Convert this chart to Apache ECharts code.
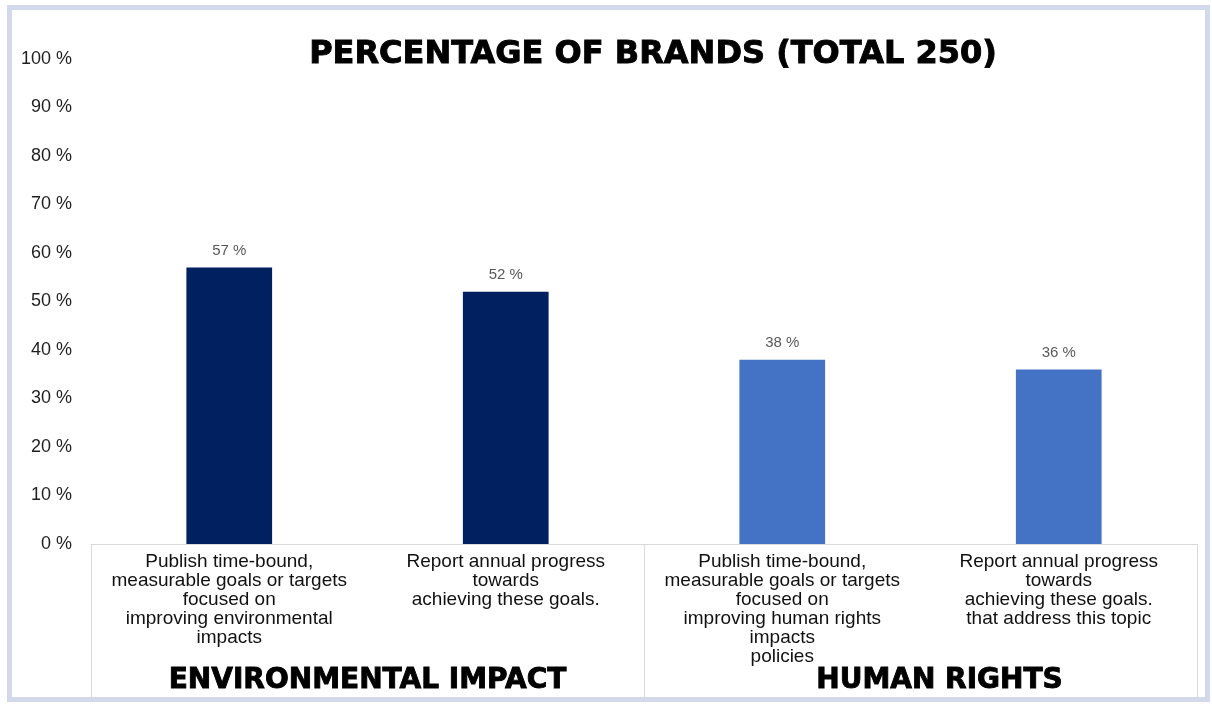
<!DOCTYPE html>
<html>
<head>
<meta charset="utf-8">
<style>
  html, body { margin: 0; padding: 0; background: #ffffff; }
  #chart { width: 1212px; height: 704px; }
</style>
<script src="https://cdn.jsdelivr.net/npm/echarts@6/dist/echarts.min.js"></script>
</head>
<body>
<div id="chart"></div>
<script>
// Measures reported by brands, two per topic
const categories = [
  'Publish time-bound,\nmeasurable goals or targets\nfocused on\nimproving environmental\nimpacts',
  'Report annual progress\ntowards\nachieving these goals.',
  'Publish time-bound,\nmeasurable goals or targets\nfocused on\nimproving human rights\nimpacts\npolicies',
  'Report annual progress\ntowards\nachieving these goals.\nthat address this topic'
];
const groups = ['ENVIRONMENTAL IMPACT', 'HUMAN RIGHTS'];
// Share of the 250 brands, in percent
const values = [57, 52, 38, 36];
const barColors = ['#002060', '#002060', '#4472C4', '#4472C4'];
const yTicks = { min: 0, max: 100, interval: 10 };
const titleText = 'PERCENTAGE OF BRANDS (TOTAL 250)';

const chart = echarts.init(document.getElementById('chart'), null, { renderer: 'canvas' });

// heavy headline style: bold face with a thin outline to thicken strokes
const heavy = {
  fontFamily: 'DejaVu Sans',
  fontWeight: 'bold',
  color: '#000000',
  textBorderColor: '#000000',
  textBorderWidth: 0.9
};

const option = {
  backgroundColor: '#ffffff',
  animation: false,
  title: {
    text: titleText,
    left: 648,
    textAlign: 'center',
    top: 34,
    textStyle: Object.assign({ fontSize: 32 }, heavy)
  },
  graphic: [{
    type: 'rect',
    silent: true,
    z: -10,
    shape: { x: 9.5, y: 7.5, width: 1198, height: 692 },
    style: { fill: 'none', stroke: '#d3d9ea', lineWidth: 5 }
  }],
  grid: { left: 91, right: 15, top: 59, bottom: 160 },
  xAxis: [{
    type: 'category',
    data: categories,
    position: 'bottom',
    axisLine: { show: false },
    axisTick: { show: false },
    axisLabel: {
      interval: 0,
      margin: 8,
      fontFamily: 'Liberation Sans',
      fontSize: 19,
      lineHeight: 19,
      color: '#111111',
      align: 'center'
    }
  }, {
    type: 'category',
    data: [
      groups[0],
      { value: groups[1], textStyle: { padding: [0, 0, 0, 38] } }
    ],
    position: 'bottom',
    axisLine: { show: true, lineStyle: { color: '#d9d9d9', width: 1 } },
    axisTick: { show: true, length: 156, lineStyle: { color: '#d9d9d9', width: 1 } },
    axisLabel: Object.assign({
      interval: 0,
      margin: 123,
      fontSize: 28
    }, heavy)
  }],
  yAxis: {
    type: 'value',
    min: yTicks.min,
    max: yTicks.max,
    interval: yTicks.interval,
    axisLine: { show: false },
    axisTick: { show: false },
    splitLine: { show: false },
    axisLabel: {
      margin: 19,
      formatter: '{value} %',
      fontFamily: 'Liberation Sans',
      fontSize: 18,
      color: '#1f1f1f'
    }
  },
  series: [{
    type: 'bar',
    xAxisIndex: 0,
    barWidth: '31%',
    data: values.map((v, i) => ({ value: v, itemStyle: { color: barColors[i] } })),
    label: {
      show: true,
      position: 'top',
      distance: 9,
      formatter: '{c} %',
      fontFamily: 'Liberation Sans',
      fontSize: 15,
      color: '#595959'
    }
  }]
};

chart.setOption(option);
</script>
</body>
</html>
